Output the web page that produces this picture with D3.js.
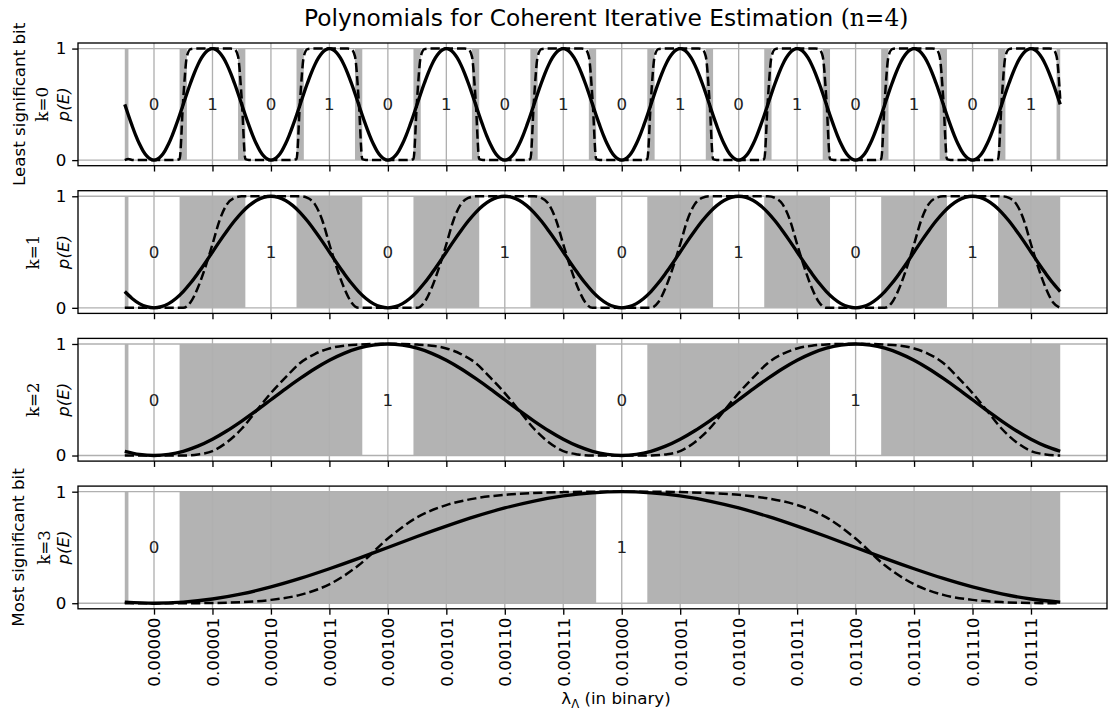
<!DOCTYPE html>
<html><head><meta charset="utf-8">
<script src="https://cdn.jsdelivr.net/npm/d3@7"></script>
<style>body{margin:0;background:#fff} svg{display:block}</style>
</head><body><svg id="chart" width="1109" height="711"></svg>
<script>
// ---------------- data ----------------
const tickLabels = ["0.00000","0.00001","0.00010","0.00011","0.00100","0.00101","0.00110","0.00111",
                    "0.01000","0.01001","0.01010","0.01011","0.01100","0.01101","0.01110","0.01111"];
const panelNames = ["k=0","k=1","k=2","k=3"];
const bitLabels0 = [0,1,0,1,0,1,0,1,0,1,0,1,0,1,0,1];
const bitLabels1 = [0,1,0,1,0,1,0,1];
const bitLabels2 = [0,1,0,1];
const bitLabels3 = [0,1];
// tick index where each bit label sits
const bitPos0 = [0,1,2,3,4,5,6,7,8,9,10,11,12,13,14,15];
const bitPos1 = [0,2,4,6,8,10,12,14];
const bitPos2 = [0,4,8,12];
const bitPos3 = [0,8];
const solidProfile = [0,0.010,0.038,0.084,0.146,0.222,0.309,0.402,0.500,0.598,0.691,0.778,0.854,0.916,0.962,0.990,1.000];
const dashedProfile0 = [0,0,0,0,0,0,0.002,0.01,0.55,0.93,0.995,1,1,1,1,1,1];
const dashedProfile1 = [0,0,0,0,0,0.05,0.18,0.36,0.57,0.79,0.93,0.985,1,1,1,1,1];
const dashedProfile2 = [0,0,0,0.01,0.04,0.12,0.24,0.40,0.56,0.70,0.83,0.91,0.96,0.985,0.995,1,1];
const dashedProfile3 = [0,0,0.002,0.01,0.03,0.075,0.17,0.34,0.58,0.77,0.88,0.94,0.972,0.988,0.996,1,1];
// value of the dashed curve at its left end (null = follows the profile)
const dashedStart = [0, null, null, null];
const dataStart = -0.5, dataEnd = 15.5;
const certainHalfWidth = 0.4375;

// ---------------- layout ----------------
const svg = d3.select("#chart");
const L = 78, R = 1107;
const panelTop0 = 43, panelStep = 147.7, panelH = 122.7;
const S = 1.667; // px per pt
const tickFont = 16.7;
const grayFill = "#b3b3b3", gridColor = "#b0b0b0";

const x = d3.scaleLinear().domain([-1.3, 16.3]).range([L, R]);
const bitLabels = [bitLabels0, bitLabels1, bitLabels2, bitLabels3];
const bitPos = [bitPos0, bitPos1, bitPos2, bitPos3];
const dashedProfiles = [dashedProfile0, dashedProfile1, dashedProfile2, dashedProfile3];

function buildCurve(k, profile) {
  const half = Math.pow(2, k), n = profile.length - 1, step = half / n;
  const pts = [];
  const count = Math.round((dataEnd - dataStart) / step);
  for (let j = 0; j <= count; j++) {
    const t = dataStart + j * step;
    let m = Math.round((((t % (2 * half)) + 2 * half) % (2 * half)) / step);
    const idx = m <= n ? m : 2 * n - m;
    pts.push([t, profile[idx]]);
  }
  return pts;
}

function graySpans(centers) {
  const spans = [];
  let cur = dataStart;
  centers.forEach(c => {
    const a = c - certainHalfWidth, b = c + certainHalfWidth;
    if (a > cur) spans.push([cur, a]);
    cur = Math.max(cur, b);
  });
  if (cur < dataEnd) spans.push([cur, dataEnd]);
  return spans;
}

for (let k = 0; k < 4; k++) {
  const top = panelTop0 + k * panelStep, bot = top + panelH;
  const y = d3.scaleLinear().domain([-0.05, 1.05]).range([bot, top]);
  const g = svg.append("g");

  // gray spans
  g.selectAll("rect.span").data(graySpans(bitPos[k])).join("rect")
    .attr("x", d => x(d[0])).attr("width", d => x(d[1]) - x(d[0]))
    .attr("y", y(1)).attr("height", y(0) - y(1)).attr("fill", grayFill);

  // grid
  g.selectAll("line.vg").data(d3.range(16)).join("line")
    .attr("x1", d => x(d)).attr("x2", d => x(d)).attr("y1", top).attr("y2", bot)
    .attr("stroke", gridColor).attr("stroke-width", 0.8 * S);
  g.selectAll("line.hg").data([0, 1]).join("line")
    .attr("x1", L).attr("x2", R).attr("y1", d => y(d)).attr("y2", d => y(d))
    .attr("stroke", gridColor).attr("stroke-width", 0.8 * S);

  // bit labels
  g.selectAll("text.bit").data(bitLabels[k]).join("text")
    .attr("x", (d, i) => x(bitPos[k][i])).attr("y", y(0.5))
    .attr("text-anchor", "middle").attr("dominant-baseline", "central")
    .attr("font-family", "DejaVu Sans").attr("font-size", tickFont).attr("fill", "#222")
    .text(d => d);

  // curves
  const solidLine = d3.line().x(d => x(d[0])).y(d => y(d[1])).curve(d3.curveCatmullRom.alpha(0.5));
  const dashLine = d3.line().x(d => x(d[0])).y(d => y(d[1])).curve(d3.curveMonotoneX);
  g.append("path").attr("d", solidLine(buildCurve(k, solidProfile)))
    .attr("fill", "none").attr("stroke", "#000").attr("stroke-width", 2 * S)
    .attr("stroke-linejoin", "round");
  const dpts = buildCurve(k, dashedProfiles[k]);
  if (dashedStart[k] !== null) dpts[0] = [dpts[0][0], dashedStart[k]];
  g.append("path").attr("d", dashLine(dpts))
    .attr("fill", "none").attr("stroke", "#000").attr("stroke-width", 1.5 * S)
    .attr("stroke-dasharray", `${3.7 * 1.5 * S},${1.6 * 1.5 * S}`)
    .attr("stroke-linejoin", "round");

  // frame
  g.append("rect").attr("x", L).attr("y", top).attr("width", R - L).attr("height", panelH)
    .attr("fill", "none").attr("stroke", "#000").attr("stroke-width", 0.8 * S);

  // y axis
  const ya = g.append("g").attr("transform", `translate(${L},0)`)
    .call(d3.axisLeft(y).tickValues([0, 1]).tickFormat(d3.format("d")).tickSize(3.5 * S).tickPadding(3.5 * S));
  ya.select(".domain").remove();
  ya.selectAll("line").attr("stroke", "#000").attr("stroke-width", 0.8 * S);
  ya.selectAll("text").attr("font-family", "DejaVu Sans").attr("font-size", tickFont).attr("fill", "#000");

  // x axis
  const xa = g.append("g").attr("transform", `translate(0,${bot})`)
    .call(d3.axisBottom(x).tickValues(d3.range(16)).tickSize(3.5 * S)
      .tickFormat(d => k === 3 ? tickLabels[d] : ""));
  xa.select(".domain").remove();
  xa.selectAll("line").attr("stroke", "#000").attr("stroke-width", 0.8 * S);
  xa.selectAll("text").attr("font-family", "DejaVu Sans").attr("font-size", tickFont).attr("fill", "#000")
    .attr("transform", "rotate(-90)").attr("x", -(3.5 * S + 3)).attr("y", 0).attr("dy", "0.35em")
    .style("text-anchor", "end");

  // y labels
  const cy = (top + bot) / 2;
  const ylab = (txt, cx, fam, style) => g.append("text")
    .attr("transform", `translate(${cx},${cy}) rotate(-90)`)
    .attr("text-anchor", "middle").attr("dominant-baseline", "central")
    .attr("font-family", fam).attr("font-size", tickFont).attr("font-style", style || "normal")
    .attr("fill", "#000").text(txt);
  ylab("p(E)", 63, "DejaVu Sans", "italic");
  if (k === 0) { ylab("Least significant bit", 19, "DejaVu Sans"); ylab(panelNames[k], 42, "DejaVu Serif"); }
  else if (k === 3) { ylab("Most significant bit", 18, "DejaVu Sans"); ylab(panelNames[k], 44, "DejaVu Serif"); }
  else ylab(panelNames[k], 33, "DejaVu Serif");
}

// title
const title = svg.append("text").attr("x", 304).attr("y", 26)
  .attr("font-family", "DejaVu Sans").attr("font-size", 23.3).attr("fill", "#000");
title.append("tspan").text("Polynomials for Coherent Iterative Estimation ");
title.append("tspan").attr("font-family", "DejaVu Serif").text("(n=4)");

// x label
const xl = svg.append("text").attr("x", 616).attr("y", 704).attr("text-anchor", "middle")
  .attr("font-family", "DejaVu Sans").attr("font-size", tickFont).attr("fill", "#000");
xl.append("tspan").text("λ");
xl.append("tspan").attr("font-size", tickFont * 0.7).attr("dy", 4).text("Λ");
xl.append("tspan").attr("dy", -4).text(" (in binary)");
</script></body></html>
